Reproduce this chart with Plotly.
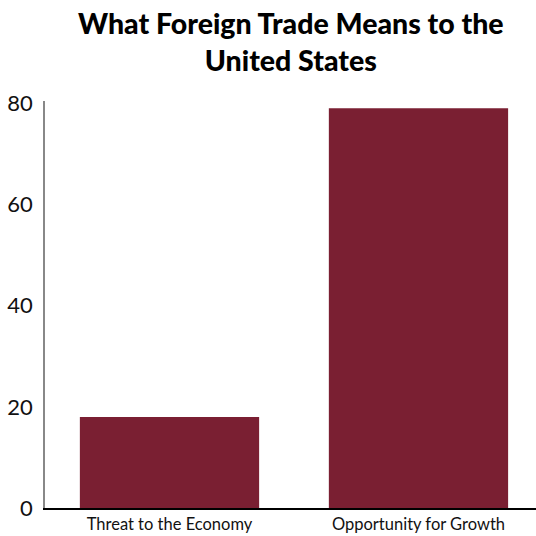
import plotly.graph_objects as go

categories = ["Threat to the Economy", "Opportunity for Growth"]
values = [18, 79]
y_ticks = [0, 20, 40, 60, 80]

bar_color = "#7a1f32"

fig = go.Figure(
    go.Bar(
        x=categories,
        y=values,
        marker=dict(color=bar_color, line=dict(width=0)),
        hoverinfo="x+y",
    )
)

fig.update_layout(
    width=536,
    height=536,
    margin=dict(l=45, r=0, t=101, b=28),
    paper_bgcolor="white",
    plot_bgcolor="white",
    bargap=0.28,
    showlegend=False,
    font=dict(family="Lato, Roboto, sans-serif", color="black"),
)

# Two-line bold heading centred over the page
fig.add_annotation(
    text="What Foreign Trade Means to the<br>United States",
    xref="paper",
    yref="paper",
    x=0.5,
    xanchor="center",
    y=1.0,
    yshift=60,
    yanchor="middle",
    showarrow=False,
    align="center",
    font=dict(family="Lato, Roboto, sans-serif", size=28.5, color="black", weight=900),
)

fig.update_xaxes(
    type="category",
    range=[-0.5, 1.472],
    showgrid=False,
    showline=True,
    linecolor="black",
    linewidth=1.5,
    ticks="",
    tickfont=dict(size=16.5, color="#111111"),
    fixedrange=True,
)

fig.update_yaxes(
    range=[0, 80.45],
    tickvals=y_ticks,
    showgrid=False,
    zeroline=False,
    showline=True,
    linecolor="#888888",
    linewidth=1.5,
    ticks="",
    ticklabelstandoff=6,
    tickfont=dict(size=22, color="#111111"),
    fixedrange=True,
)

fig.write_html("out.html")
